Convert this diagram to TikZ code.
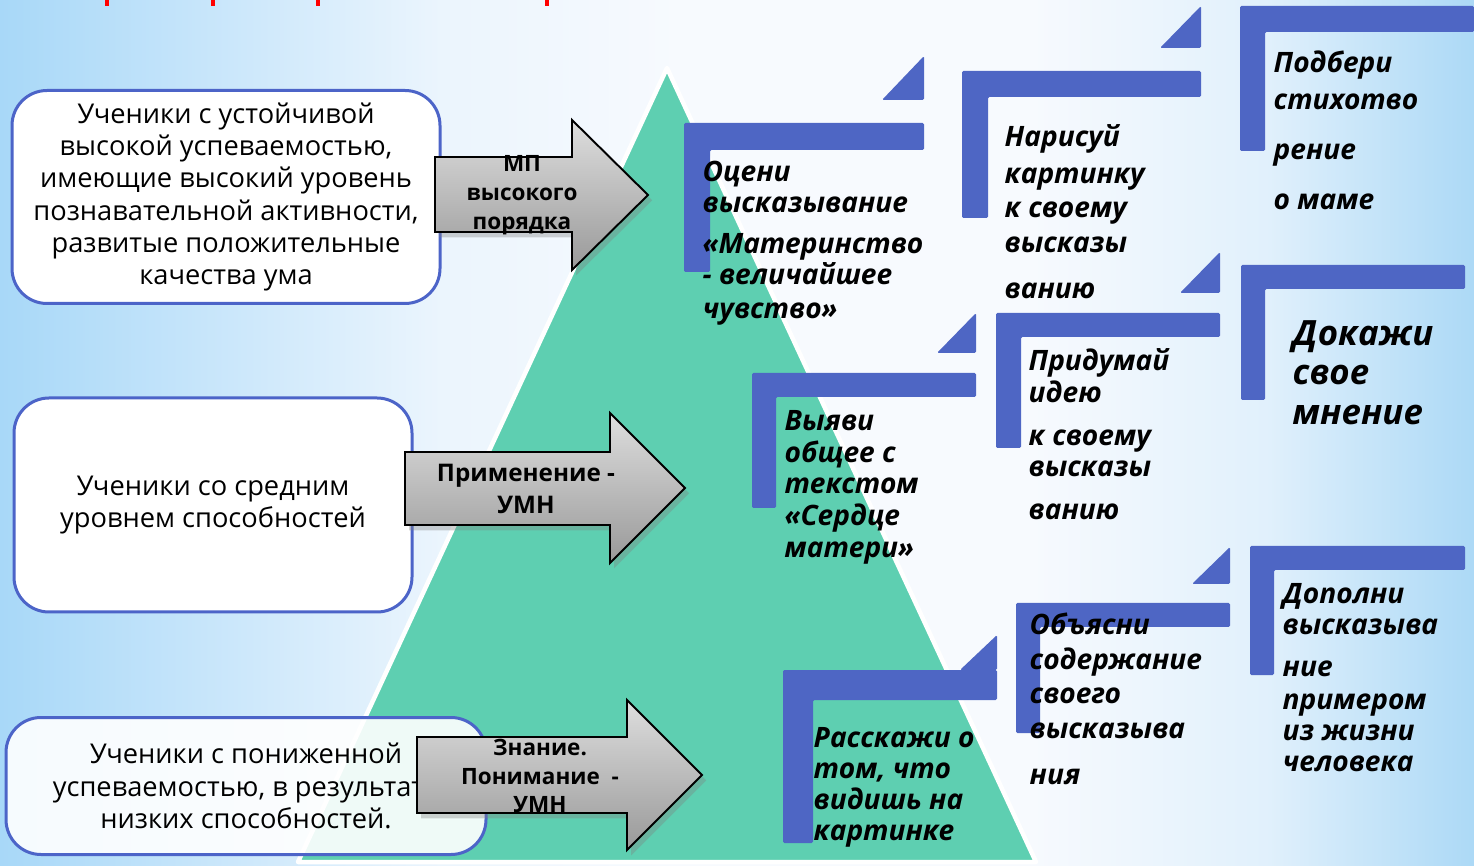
\documentclass[tikz,border=0pt]{standalone}
\usepackage{fontspec}
\setmainfont{Open Sans}
\usetikzlibrary{shapes,shadows,positioning}

\definecolor{bgleft}{RGB}{168,216,248}
\definecolor{bgright}{RGB}{172,217,246}
\definecolor{bgmid}{RGB}{247,250,254}
\definecolor{pyramid}{RGB}{94,207,177}
\definecolor{frameblue}{RGB}{78,102,196}
\definecolor{boxblue}{RGB}{76,100,200}

\pgfdeclarehorizontalshading{backdrop}{100bp}{color(0bp)=(bgleft); color(25bp)=(bgleft); color(40bp)=(bgmid!85!bgleft); color(48bp)=(bgmid); color(60bp)=(bgmid); color(68bp)=(bgmid!70!bgright); color(75bp)=(bgright); color(100bp)=(bgright)}

\tikzset{
  groupbox/.style={draw=boxblue,line width=0.3mm,rounded corners=3.5mm,fill=white,align=center,inner sep=0pt,font=\fontsize{7.75}{9.15}\selectfont},
  levelarrow/.style={draw=black,line width=0.55pt,top color=black!13,bottom color=black!40,drop shadow={opacity=0.35,shadow xshift=1.2pt,shadow yshift=-1.5pt}},
  arrowtext/.style={align=center,inner sep=0pt,font=\bfseries\fontsize{6.4}{8.2}\selectfont},
  frame/.style={fill=frameblue,rounded corners=0.4pt},
  tasktext/.style={anchor=north west,align=left,inner sep=0pt,font=\bfseries\itshape\fontsize{8.0}{8.8}\selectfont}
}

\begin{document}
\begin{tikzpicture}[x=0.1mm,y=-0.1mm]
\useasboundingbox (0,0) rectangle (1474,866);
\shade[shading=backdrop] (0,0) rectangle (1474,866);
\fill[red] (105,0) rectangle (109,6);
\fill[red] (211,0) rectangle (215,6);
\fill[red] (316,0) rectangle (320,6);
\fill[red] (545,0) rectangle (549,6);

\filldraw[fill=pyramid,draw=white,line width=0.45mm,line join=round] (667,68) -- (1036,862) -- (298,862) -- cycle;

\node[groupbox,minimum width=42.8mm,minimum height=21.3mm](high) at (226,197) {Ученики с устойчивой\\высокой успеваемостью,\\имеющие высокий уровень\\познавательной активности,\\развитые положительные\\качества ума};
\node[groupbox,minimum width=39.8mm,minimum height=21.4mm](middle) at (213,505) {Ученики со средним\\уровнем способностей};
\node[groupbox,fill opacity=0.9,text opacity=1,minimum width=48mm,minimum height=13.7mm](low) at (246,786) {Ученики с пониженной\\успеваемостью, в результате\\низких способностей.};

\draw[levelarrow] (435,157) -- (572,157) -- (572,120) -- (648,195) -- (572,270) -- (572,232) -- (435,232) -- cycle;
\node[arrowtext](order) at (522,195) {МП\\высокого\\порядка};
\draw[levelarrow] (405,452) -- (610,452) -- (610,413) -- (685,488) -- (610,563) -- (610,525) -- (405,525) -- cycle;
\node[arrowtext,font=\bfseries\fontsize{6.9}{9.1}\selectfont](apply) at (526,489) {Применение -\\УМН};
\draw[levelarrow] (417,737) -- (627,737) -- (627,700) -- (702,775) -- (627,850) -- (627,813) -- (417,813) -- cycle;
\node[arrowtext](know) at (540,776) {Знание.\\Понимание~~-\\УМН};

\fill[frame] (684,123) -- (924,123) -- (924,150) -- (710,150) -- (710,272) -- (684,272) -- cycle;
\fill[frame] (882,100) -- (924,100) -- (924,56) -- cycle;
\fill[frame] (962,71) -- (1201,71) -- (1201,97) -- (988,97) -- (988,218) -- (962,218) -- cycle;
\fill[frame] (1160,48) -- (1201,48) -- (1201,6) -- cycle;
\fill[frame] (1240,6) -- (1474,6) -- (1474,32) -- (1265,32) -- (1265,151) -- (1240,151) -- cycle;
\fill[frame] (996,313) -- (1220,313) -- (1220,337) -- (1021,337) -- (1021,448) -- (996,448) -- cycle;
\fill[frame] (1180,293) -- (1220,293) -- (1220,252) -- cycle;
\fill[frame] (1241,265) -- (1465,265) -- (1465,289) -- (1265,289) -- (1265,400) -- (1241,400) -- cycle;
\fill[frame] (752,373) -- (976,373) -- (976,397) -- (776,397) -- (776,508) -- (752,508) -- cycle;
\fill[frame] (937,353) -- (976,353) -- (976,313) -- cycle;
\fill[frame] (1016,603) -- (1230,603) -- (1230,627) -- (1040,627) -- (1040,733) -- (1016,733) -- cycle;
\fill[frame] (1192,584) -- (1230,584) -- (1230,547) -- cycle;
\fill[frame] (783,670) -- (997,670) -- (997,700) -- (813,700) -- (813,843) -- (783,843) -- cycle;
\fill[frame] (960,670) -- (997,670) -- (997,635) -- cycle;
\fill[frame] (1250,546) -- (1465,546) -- (1465,570) -- (1274,570) -- (1274,675) -- (1250,675) -- cycle;

\node[tasktext](judge) at (702,160) {Оцени\\высказывание\\[3.1pt]«Материнство\\- величайшее\\[0.9pt]чувство»};
\node[tasktext](draw) at (1004,124) {Нарисуй\\[1.7pt]картинку\\[0.9pt]к своему\\[1.1pt]высказы\\[4.3pt]ванию};
\node[tasktext](poem) at (1273,50) {Подбери\\[1.7pt]стихотво\\[5.4pt]рение\\[5.4pt]о маме};
\node[tasktext](idea) at (1028,348) {Придумай\\[0.3pt]идею\\[3.4pt]к своему\\высказы\\[3.4pt]ванию};
\node[tasktext,font=\bfseries\itshape\fontsize{9.9}{11.2}\selectfont](prove) at (1292,320) {Докажи\\свое\\мнение};
\node[tasktext](common) at (784,410) {Выяви\\[0.3pt]общее с\\текстом\\[0.3pt]«Сердце\\[0.3pt]матери»};
\node[tasktext](explain) at (1029,612) {Объясни\\[1.1pt]содержание\\[1.1pt]своего\\[1.1pt]высказыва\\[4.3pt]ния};
\node[tasktext](tell) at (813,727) {Расскажи о\\том, что\\видишь на\\картинке};
\node[tasktext](add) at (1282,583) {Дополни\\высказыва\\[3.1pt]ние\\[0.6pt]примером\\из жизни\\человека};
\end{tikzpicture}
\end{document}
